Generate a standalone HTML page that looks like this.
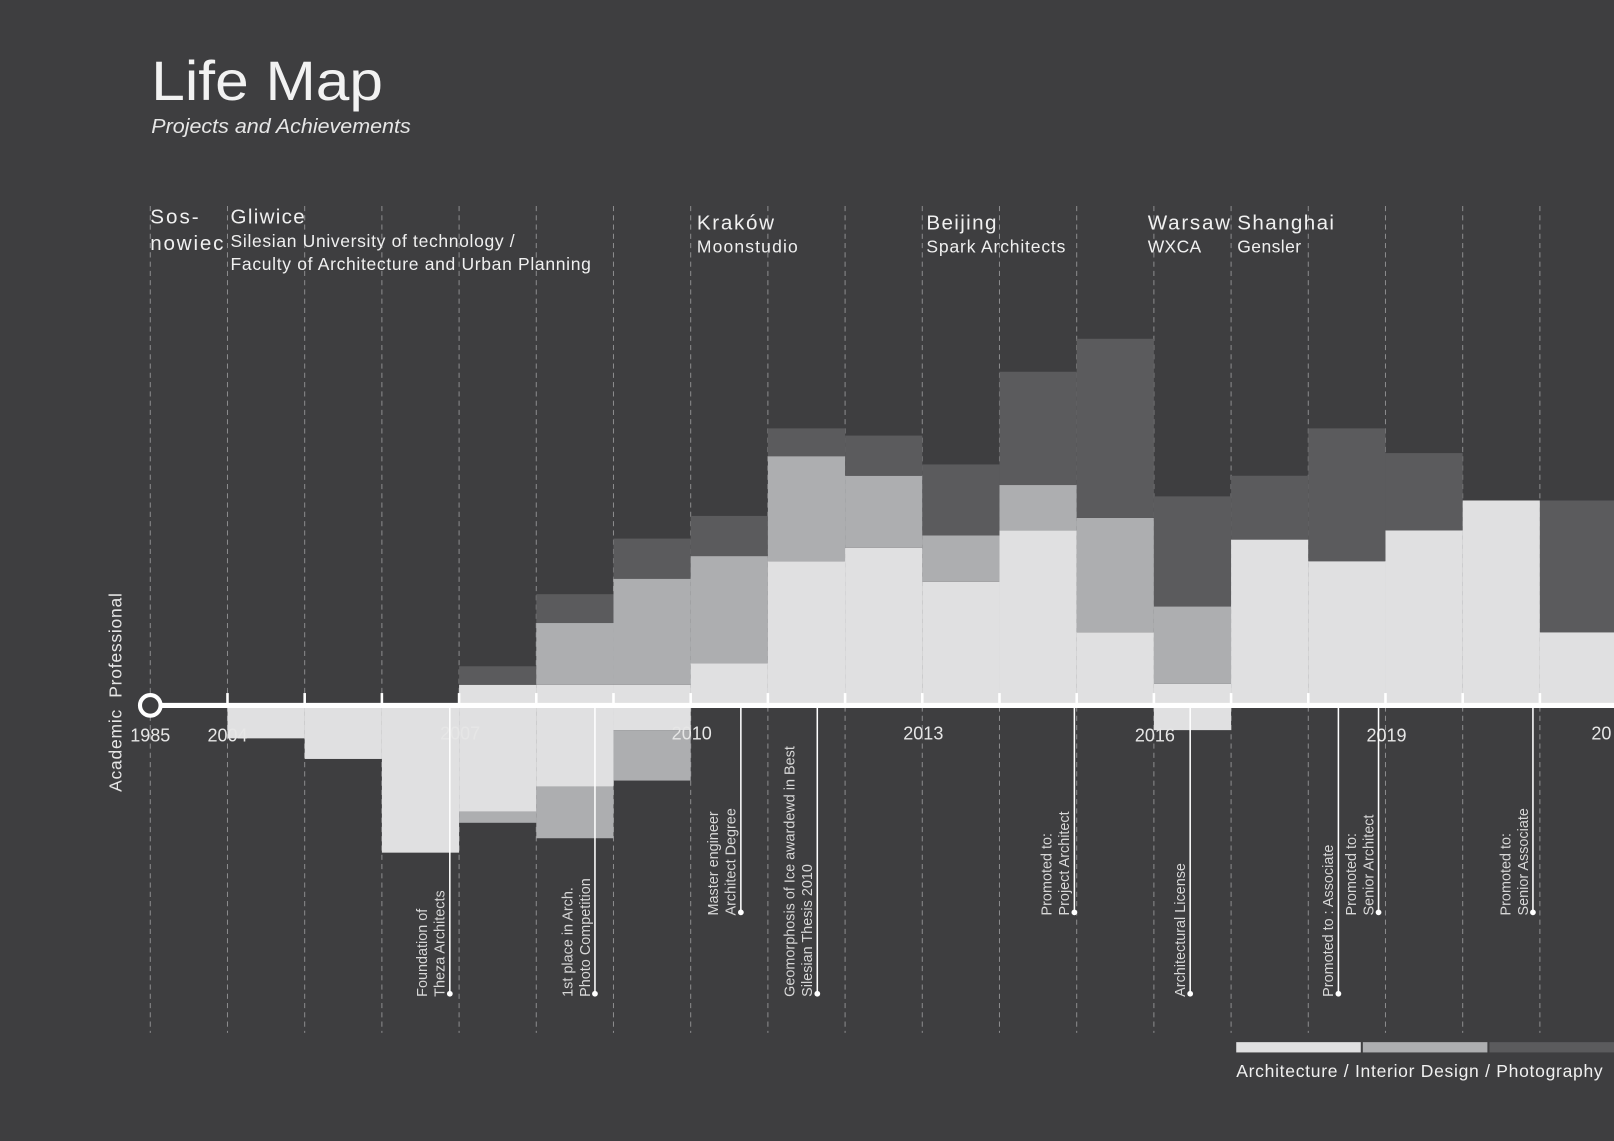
<!DOCTYPE html>
<html><head><meta charset="utf-8"><title>Life Map</title>
<style>
html,body{margin:0;padding:0;background:#3e3e40;}
svg{display:block;font-family:"Liberation Sans",sans-serif;}
</style></head>
<body>
<svg id="chart" width="1614" height="1141" viewBox="0 0 1568 1108" preserveAspectRatio="none" xmlns="http://www.w3.org/2000/svg">
<rect x="0" y="0" width="1568" height="1108" fill="#3e3e40"/>
<text x="147" y="97" font-size="54" fill="#f2f2f2" textLength="225" lengthAdjust="spacingAndGlyphs">Life Map</text>
<text x="147" y="129" font-size="20" font-style="italic" fill="#e6e6e6" textLength="252" lengthAdjust="spacingAndGlyphs">Projects and Achievements</text>
<g id="grid"></g>
<g id="bars"></g>
<g id="axis"></g>
<g id="notes"></g>
<g fill="#f0f0f0">
<text x="146" y="217" font-size="20" textLength="47">Sos-</text>
<text x="146" y="243" font-size="20" textLength="71">nowiec</text>
<text x="224" y="217" font-size="20" textLength="72">Gliwice</text>
<text x="224" y="240" font-size="17" textLength="276">Silesian University of technology /</text>
<text x="224" y="262" font-size="17" textLength="350">Faculty of Architecture and Urban Planning</text>
<text x="677" y="223" font-size="20" textLength="75">Kraków</text>
<text x="677" y="245" font-size="17" textLength="98">Moonstudio</text>
<text x="900" y="223" font-size="20" textLength="68">Beijing</text>
<text x="900" y="245" font-size="17" textLength="135">Spark Architects</text>
<text x="1115" y="223" font-size="20" textLength="80">Warsaw</text>
<text x="1115" y="245" font-size="17" textLength="52">WXCA</text>
<text x="1202" y="223" font-size="20" textLength="94">Shanghai</text>
<text x="1202" y="245" font-size="17" textLength="62">Gensler</text>
</g>
<text transform="translate(118,769) rotate(-90)" font-size="17" fill="#e6e6e6" xml:space="preserve" textLength="193">Academic  Professional</text>
<g>
<rect x="1201" y="1012" width="121" height="10" fill="#e0e0e1"/>
<rect x="1324" y="1012" width="121" height="10" fill="#adaeb0"/>
<rect x="1447" y="1012" width="121" height="10" fill="#5b5b5d"/>
<text x="1201" y="1046" font-size="17" fill="#f0f0f0" textLength="356">Architecture / Interior Design / Photography</text>
</g>
</svg>
<script>
// Data: professional hours (above axis) and academic (below axis) per period column
const periods = ["2004a","2004b","2006","2007","2008","2009","2010","2011","2012","2013","2014","2015","2016","2017","2018","2019","2020","2021"];
const architecture = [0,0,0,20,20,20,41,140,153,120,170,71,21,161,140,170,199,71];
const interior =     [0,0,0,0,60,103,104,102,70,45,44,111,75,0,0,0,0,0];
const photography =  [0,0,0,18,28,39,39,27,39,69,110,174,107,62,129,75,0,128];
const acadArchitecture = [32,52,143,103,79,24,0,0,0,0,0,0,24,0,0,0,0,0];
const acadInterior =     [0,0,0,11,50,49,0,0,0,0,0,0,0,0,0,0,0,0];
const yearLabels = ["1985","2004","2007","2010","2013","2016","2019","20"];
const yearCols = [-1,0,3,6,9,12,15,18];
const notesText = [["Foundation of","Theza  Architects"],["1st place in Arch.","Photo Competition"],["Master engineer","Architect Degree"],["Geomorphosis of Ice awardewd in Best","Silesian Thesis 2010"],["Promoted to:","Project Architect"],["Architectural License"],["Promoted to : Associate"],["Promoted to:","Senior Architect"],["Promoted to:","Senior  Associate"]];
const notesCol = [2.88,4.76,6.65,7.64,10.97,12.47,14.39,14.91,16.91];
const notesLong = [1,1,0,1,0,1,1,0,0];

const NS="http://www.w3.org/2000/svg";
const X0=221, COLW=75, BASE=685;
function xs(i){return X0+i*COLW;}
function ys(v){return BASE-v;}
function mk(tag,attrs,parent){const e=document.createElementNS(NS,tag);for(const k in attrs)e.setAttribute(k,attrs[k]);parent.appendChild(e);return e;}
const grid=document.getElementById('grid'),bars=document.getElementById('bars'),axis=document.getElementById('axis'),notes=document.getElementById('notes');
for(let i=-1;i<=18;i++){
  const l=mk('line',{x1:xs(i),x2:xs(i),y1:200,y2:1003,stroke:'#8a8a8c','stroke-width':1,'stroke-dasharray':'5,4'},grid);
  
  
}
const cols=['#e0e0e1','#adaeb0','#5b5b5d'];
periods.forEach((p,i)=>{
  let acc=0;
  [architecture[i],interior[i],photography[i]].forEach((v,k)=>{
    if(v>0){
      const r=mk('rect',{x:xs(i),y:ys(acc+v),width:COLW,height:v,fill:cols[k]},bars);
      
      
    }
    acc+=v;
  });
  let d=0;
  [acadArchitecture[i],acadInterior[i]].forEach((v,k)=>{
    if(v>0){
      const r=mk('rect',{x:xs(i),y:BASE+d,width:COLW,height:v,fill:cols[k]},bars);
      
      
    }
    d+=v;
  });
});
const al=mk('line',{x1:146,x2:1568,y1:BASE,y2:BASE,stroke:'#ffffff','stroke-width':5},axis);


for(let i=0;i<=18;i++){
  const t=mk('line',{x1:xs(i),x2:xs(i),y1:BASE-12,y2:BASE,stroke:'#ffffff','stroke-width':2.5},axis);
  
  
}
const c=mk('circle',{cx:146,cy:BASE,r:10,fill:'#3e3e40',stroke:'#ffffff','stroke-width':4},axis);


yearLabels.forEach((lab,i)=>{
  const col=yearCols[i];
  const t=mk('text',{x:xs(col)+(col>0&&col<18?1:0),y:col===0||col===-1||col===15||col===12?720:718,'font-size':17.5,fill:'#e6e6e6','text-anchor':col===18?'start':'middle'},axis);
  if(col===18)t.setAttribute('x',xs(col)-25);
  t.textContent=lab;
  
  
});
notesText.forEach((lines,i)=>{
  const x=xs(notesCol[i]);
  const bottom=notesLong[i]?965:886;
  const ln=mk('line',{x1:x,x2:x,y1:BASE,y2:bottom,stroke:'#ffffff','stroke-width':1.5},notes);
  
  
  const dt=mk('circle',{cx:x,cy:bottom,r:2.8,fill:'#ffffff'},notes);
  
  
  lines.forEach((s,j)=>{
    const bx=x-5-(lines.length-1-j)*17;
    const t=mk('text',{transform:'translate('+bx+','+(bottom+3)+') rotate(-90)','font-size':14,fill:'#d8d8d8'},notes);
    t.setAttribute('xml:space','preserve');
    t.textContent=s;
    
    
  });
});
</script>
</body></html>
